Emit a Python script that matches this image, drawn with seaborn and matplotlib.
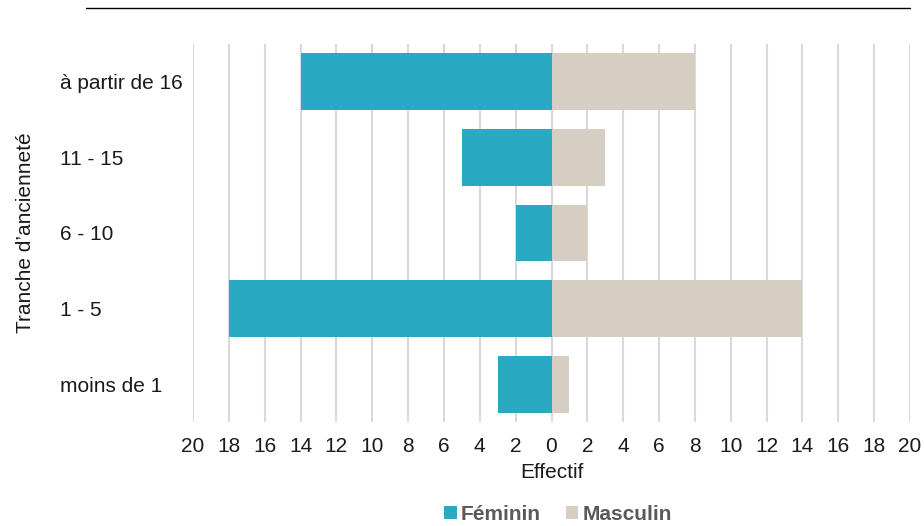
import matplotlib
matplotlib.use("Agg")
import matplotlib.pyplot as plt
from matplotlib.lines import Line2D
from matplotlib.patches import Patch
from matplotlib.ticker import FuncFormatter
import numpy as np
import pandas as pd
import seaborn as sns

# Seniority bands (top to bottom) and headcount per sex
tranches = ["à partir de 16", "11 - 15", "6 - 10", "1 - 5", "moins de 1"]
feminin = [14, 5, 2, 18, 3]
masculin = [8, 3, 2, 14, 1]
x_ticks = list(range(-20, 21, 2))

COL_F = "#29A9C2"
COL_M = "#D6CEC2"
FS = 15

sns.set_theme(style="white")
plt.rcParams["font.family"] = ["Liberation Sans", "DejaVu Sans"]

df = pd.DataFrame({
    "Tranche": tranches * 2,
    "Effectif": [-v for v in feminin] + masculin,
    "Sexe": ["Féminin"] * len(tranches) + ["Masculin"] * len(tranches),
})

fig = plt.figure(figsize=(9.24, 5.26), dpi=100)
ax = fig.add_axes([193 / 924, 1 - 422 / 526, (910 - 193) / 924, (422 - 44) / 526])

sns.barplot(data=df, x="Effectif", y="Tranche", hue="Sexe", order=tranches,
            palette={"Féminin": COL_F, "Masculin": COL_M}, dodge=False,
            saturation=1, width=0.75, orient="h", ax=ax, legend=False,
            linewidth=0, zorder=3)

ax.set_xlim(-20, 20)
ax.set_ylim(len(tranches) - 0.5, -0.5)
ax.set_xticks(x_ticks)
ax.xaxis.set_major_formatter(FuncFormatter(lambda v, _: f"{abs(int(round(v)))}"))
ax.grid(axis="x", color="#D9D9D9", linewidth=1.5, zorder=0)
ax.grid(axis="y", visible=False)
ax.set_axisbelow(True)
for s in ax.spines.values():
    s.set_visible(False)

ax.tick_params(axis="x", length=0, pad=11, labelsize=FS, labelcolor="#1a1a1a")
ax.tick_params(axis="y", length=0, pad=96, labelsize=FS, labelcolor="#1a1a1a")
for lab in ax.get_yticklabels():
    lab.set_horizontalalignment("left")

# small white breaks on the left edge between bands
ax.set_yticks(np.arange(0.5, len(tranches) - 1, 1.0), minor=True)
ax.tick_params(axis="y", which="minor", direction="inout", length=6, width=2.5,
               color="white")

ax.set_xlabel("Effectif", fontsize=FS, color="#1a1a1a", labelpad=5)
ax.set_ylabel("Tranche d’ancienneté", fontsize=FS, color="#1a1a1a")
ax.yaxis.set_label_coords(-158 / 717, 0.5)

# rule across the top of the figure
fig.add_artist(Line2D([86 / 924, 910 / 924], [1 - 8 / 526, 1 - 8 / 526],
                      color="black", linewidth=1, transform=fig.transFigure))

handles = [Patch(facecolor=COL_F, edgecolor="none", label="Féminin"),
           Patch(facecolor=COL_M, edgecolor="none", label="Masculin")]
leg = fig.legend(handles=handles, loc="center", bbox_to_anchor=(558 / 924, 1 - 514 / 526),
                 ncol=2, frameon=False, handlelength=0.6, handleheight=0.6,
                 handletextpad=0.2, columnspacing=1.2,
                 prop={"size": FS, "weight": "bold"})
for t in leg.get_texts():
    t.set_color("#595959")

fig.savefig("out.png", dpi=100)
